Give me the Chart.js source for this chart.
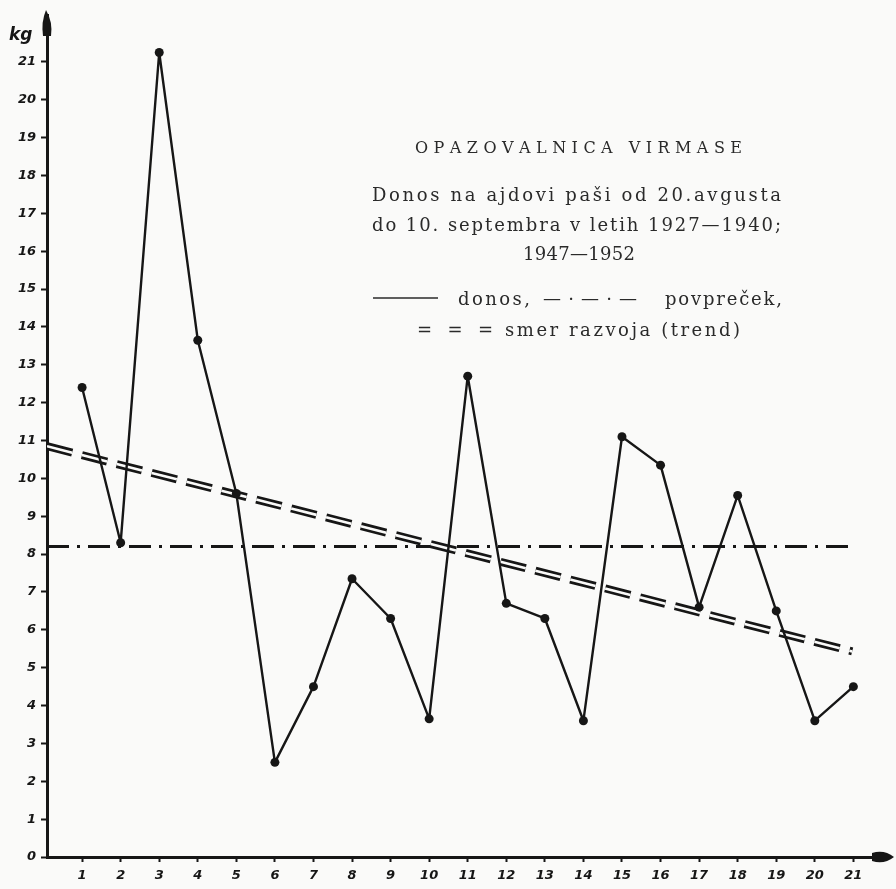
<!DOCTYPE html>
<html>
<head>
<meta charset="utf-8">
<script src="https://cdn.jsdelivr.net/npm/chart.js@4.4.0/dist/chart.umd.min.js"></script>
<style>
    html, body { margin: 0; padding: 0; background: #fafaf9; }
    #wrap { width: 896px; height: 889px; }
</style>
</head>
<body>
<div id="wrap"><canvas id="donos-chart" width="896" height="889"></canvas></div>
<script>
// years 1927-1940, 1947-1952 numbered 1..21
var yearIndex = [1, 2, 3, 4, 5, 6, 7, 8, 9, 10, 11, 12, 13, 14, 15, 16, 17, 18, 19, 20, 21];
var donos = [12.4, 8.3, 21.25, 13.65, 9.6, 2.5, 4.5, 7.35, 6.3, 3.65, 12.7, 6.7, 6.3, 3.6, 11.1, 10.35, 6.6, 9.55, 6.5, 3.6, 4.5];
var yTicks = [0, 1, 2, 3, 4, 5, 6, 7, 8, 9, 10, 11, 12, 13, 14, 15, 16, 17, 18, 19, 20, 21];
var xTicks = yearIndex;
var avgValue = 8.2;          // povpreček
var trendX = [0.09, 20.97];
var trendY = [10.85, 5.43];  // smer razvoja

var X_MIN = 0.09, X_MAX = 21.95;
var Y_MIN = 0, Y_MAX = 22.24;
var INK = '#161616';
var PAPER = '#fafaf9';

var lineData = yearIndex.map(function (x, i) { return { x: x, y: donos[i] }; });
var avgData = [{ x: X_MIN, y: avgValue }, { x: 20.95, y: avgValue }];
var trendData = trendX.map(function (x, i) { return { x: x, y: trendY[i] }; });

// spread characters so the line fills the given width
function drawFit(ctx, text, left, right, y) {
    var chars = Array.from(text);
    var widths = chars.map(function (c) { return ctx.measureText(c).width; });
    var total = widths.reduce(function (a, b) { return a + b; }, 0);
    var gap = chars.length > 1 ? (right - left - total) / (chars.length - 1) : 0;
    var x = left;
    ctx.textAlign = 'left';
    for (var i = 0; i < chars.length; i++) {
        ctx.fillText(chars[i], x, y);
        x += widths[i] + gap;
    }
}

var decorations = {
    id: 'decorations',
    afterDraw: function (chart) {
        var ctx = chart.ctx;
        var area = chart.chartArea;
        ctx.save();

        // arrow heads
        ctx.fillStyle = INK;
        var ax = area.left;
        ctx.beginPath();
        ctx.moveTo(ax - 1, 10);
        ctx.quadraticCurveTo(ax + 6, 22, ax + 4, 36);
        ctx.lineTo(ax - 4, 36);
        ctx.quadraticCurveTo(ax - 6, 22, ax - 1, 10);
        ctx.fill();

        var ay = area.bottom;
        ctx.beginPath();
        ctx.moveTo(area.right + 4, ay);
        ctx.quadraticCurveTo(area.right - 6, ay - 8, area.right - 18, ay - 4);
        ctx.lineTo(area.right - 18, ay + 4);
        ctx.quadraticCurveTo(area.right - 6, ay + 8, area.right + 4, ay);
        ctx.fill();

        // unit
        ctx.font = 'bold italic 17px "DejaVu Sans"';
        ctx.textBaseline = 'alphabetic';
        ctx.textAlign = 'left';
        ctx.fillText('kg', 9, 40);

        // title block
        ctx.fillStyle = '#2a2a2a';
        ctx.font = '16px "DejaVu Serif"';
        drawFit(ctx, 'OPAZOVALNICA VIRMASE', 415, 742, 153);
        ctx.font = '18px "DejaVu Serif"';
        drawFit(ctx, 'Donos na ajdovi paši od 20.avgusta', 372, 781, 201);
        drawFit(ctx, 'do 10. septembra v letih 1927—1940;', 372, 781, 231);
        drawFit(ctx, '1947—1952', 523, 635, 260);

        ctx.strokeStyle = '#2a2a2a';
        ctx.lineWidth = 1.6;
        ctx.beginPath();
        ctx.moveTo(373, 298);
        ctx.lineTo(438, 298);
        ctx.stroke();
        drawFit(ctx, 'donos,', 458, 530, 305);
        drawFit(ctx, '—·—·—', 543, 637, 305);
        drawFit(ctx, 'povpreček,', 665, 782, 305);
        drawFit(ctx, '= = =', 417, 493, 336);
        drawFit(ctx, 'smer razvoja (trend)', 505, 740, 336);

        ctx.restore();
    }
};

var donosCanvas = document.getElementById('donos-chart');

var donosChart = new Chart(donosCanvas, {
    type: 'line',
    data: {
        datasets: [
            {
                label: 'donos',
                data: lineData,
                borderColor: INK,
                borderWidth: 2.4,
                borderJoinStyle: 'round',
                pointRadius: 4.5,
                pointBackgroundColor: INK,
                pointBorderWidth: 0,
                tension: 0,
                order: 0
            },
            {
                // inner white stroke makes the trend a double line
                label: 'trend-gap',
                data: trendData,
                borderColor: PAPER,
                borderWidth: 2.6,
                borderDash: [26, 10],
                pointRadius: 0,
                order: 1
            },
            {
                label: 'smer razvoja (trend)',
                data: trendData,
                borderColor: INK,
                borderWidth: 8,
                borderDash: [26, 10],
                pointRadius: 0,
                order: 2
            },
            {
                label: 'povpreček',
                data: avgData,
                borderColor: INK,
                borderWidth: 3,
                borderDash: [22, 8, 3, 8],
                pointRadius: 0,
                order: 3
            }
        ]
    },
    options: {
        responsive: false,
        animation: false,
        layout: {
            padding: { top: 15, right: 6, left: 0, bottom: 0 }
        },
        scales: {
            x: {
                type: 'linear',
                min: X_MIN,
                max: X_MAX,
                afterBuildTicks: function (scale) {
                    scale.ticks = xTicks.map(function (v) { return { value: v }; });
                },
                afterFit: function (scale) {
                    scale.height = 32;
                },
                border: { display: true, color: INK, width: 3 },
                grid: {
                    drawOnChartArea: false,
                    drawTicks: true,
                    tickLength: 5,
                    tickWidth: 2,
                    tickColor: INK
                },
                ticks: {
                    autoSkip: false,
                    maxRotation: 0,
                    padding: 6,
                    color: INK,
                    font: { family: 'DejaVu Sans', size: 13, style: 'italic', weight: 'bold' }
                }
            },
            y: {
                min: Y_MIN,
                max: Y_MAX,
                afterBuildTicks: function (scale) {
                    scale.ticks = yTicks.map(function (v) { return { value: v }; });
                },
                afterFit: function (scale) {
                    scale.width = 47;
                },
                border: { display: true, color: INK, width: 3 },
                grid: {
                    drawOnChartArea: false,
                    drawTicks: true,
                    tickLength: 6,
                    tickWidth: 2,
                    tickColor: INK
                },
                ticks: {
                    autoSkip: false,
                    padding: 5,
                    color: INK,
                    font: { family: 'DejaVu Sans', size: 13, style: 'italic', weight: 'bold' }
                }
            }
        },
        plugins: {
            legend: { display: false },
            tooltip: { enabled: false }
        }
    },
    plugins: [decorations]
});
</script>
</body>
</html>
